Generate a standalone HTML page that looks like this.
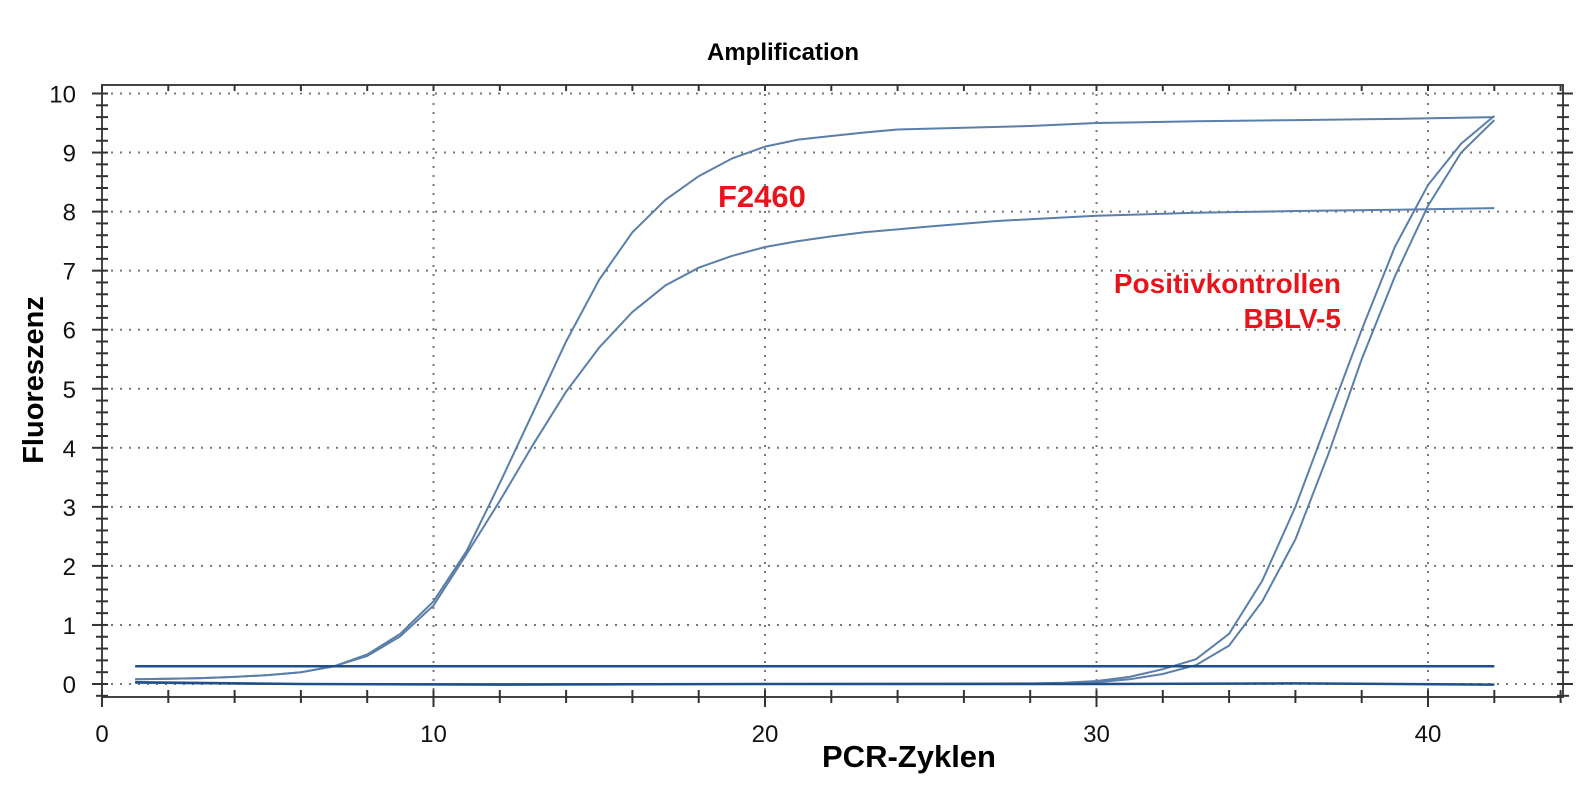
<!DOCTYPE html>
<html><head><meta charset="utf-8"><style>
html,body{margin:0;padding:0;background:#fff;}
svg{display:block;font-family:"Liberation Sans",Arial,sans-serif;}
</style></head><body>
<svg id="s" width="1579" height="800" viewBox="0 0 1579 800">
<rect width="1579" height="800" fill="#fff"/>
<text x="783" y="60" font-size="24" font-weight="bold" text-anchor="middle">Amplification</text>
<g id="grid"></g>
<rect x="102" y="85" width="1461" height="612" fill="none" stroke="#444" stroke-width="2"/>
<g id="ticks" stroke="#333" stroke-width="2"></g>
<g id="labels" font-size="24" fill="#111"></g>
<g id="curves" fill="none"></g>
<text x="909" y="767" font-size="31" font-weight="bold" text-anchor="middle">PCR-Zyklen</text>
<text transform="translate(43,380) rotate(-90)" font-size="29" font-weight="bold" text-anchor="middle">Fluoreszenz</text>
<text x="718" y="207" font-size="31" font-weight="bold" fill="#e8141b">F2460</text>
<text x="1341" y="293" font-size="28" font-weight="bold" fill="#e8141b" text-anchor="end">Positivkontrollen</text>
<text x="1341" y="328" font-size="28" font-weight="bold" fill="#e8141b" text-anchor="end">BBLV-5</text>
</svg>
<script>
var NS="http://www.w3.org/2000/svg";
function X(c){return 102+c*33.15;}
function Y(v){return 684-v*59.05;}
function el(p,t,a){var e=document.createElementNS(NS,t);for(var k in a)e.setAttribute(k,a[k]);p.appendChild(e);return e;}
var g=document.getElementById('grid'),tk=document.getElementById('ticks'),lb=document.getElementById('labels');
for(var v=0;v<=10;v++){el(g,'line',{x1:102,x2:1563,y1:Y(v),y2:Y(v),stroke:'#777','stroke-width':2,'stroke-dasharray':'2,7'});
 var t=el(lb,'text',{x:76,y:Y(v)+9,'text-anchor':'end'});t.textContent=v;}
for(var c=10;c<=40;c+=10){el(g,'line',{x1:X(c),x2:X(c),y1:85,y2:697,stroke:'#777','stroke-width':2,'stroke-dasharray':'2,7'});}
for(var c=0;c<=40;c+=10){var t=el(lb,'text',{x:X(c),y:742,'text-anchor':'middle'});t.textContent=c;}
for(var v=-0.2;v<=10.01;v+=0.2){var y=Y(v),maj=Math.abs(v-Math.round(v))<0.01;
 el(tk,'line',{x1:maj?92:96,x2:108,y1:y,y2:y});el(tk,'line',{x1:1557,x2:maj?1573:1569,y1:y,y2:y});}
for(var c=0;c<=44;c+=2){var maj=c%10==0;el(tk,'line',{x1:X(c),x2:X(c),y1:690,y2:maj?707:703});el(tk,'line',{x1:X(c),x2:X(c),y1:85,y2:91});}
function interp(pts){var s='';for(var i=0;i<pts.length;i++){s+=(i?'L':'M')+X(pts[i][0]).toFixed(1)+','+Y(pts[i][1]).toFixed(1);}return s;}
var early=[[1,0.08],[2,0.09],[3,0.1],[4,0.12],[5,0.15],[6,0.2],[7,0.3],[8,0.5],[9,0.85],[10,1.4]];
var up=early.concat([[11,2.25],[12,3.4],[13,4.6],[14,5.8],[15,6.85],[16,7.65],[17,8.2],[18,8.6],[19,8.9],[20,9.1],[21,9.22],[22,9.28],[23,9.34],[24,9.39],[26,9.42],[28,9.45],[30,9.5],[33,9.53],[36,9.55],[39,9.57],[42,9.6]]);
var lo=early.map(function(p){return [p[0],p[1]*(p[0]>7?0.95:1)]}).concat([[11,2.2],[12,3.1],[13,4.05],[14,4.95],[15,5.7],[16,6.3],[17,6.75],[18,7.05],[19,7.25],[20,7.4],[21,7.5],[22,7.58],[23,7.65],[25,7.75],[27,7.84],[30,7.93],[33,7.98],[36,8.01],[39,8.03],[42,8.06]]);
var pa=[[1,0.02],[5,0.0],[10,0.0],[20,0.0],[28,0.01],[29,0.02],[30,0.05],[31,0.12],[32,0.25],[33,0.42],[34,0.85],[35,1.75],[36,3.0],[37,4.5],[38,6.0],[39,7.4],[40,8.45],[41,9.15],[42,9.62]];
var pb=[[1,0.02],[5,0.0],[10,0.0],[20,0.0],[28,0.0],[29,0.01],[30,0.03],[31,0.08],[32,0.17],[33,0.32],[34,0.65],[35,1.4],[36,2.45],[37,3.9],[38,5.5],[39,6.9],[40,8.1],[41,9.0],[42,9.55]];
var cv=document.getElementById('curves');
[up,lo,pa,pb].forEach(function(p){el(cv,'path',{d:interp(p),stroke:'#5b7fa8','stroke-width':2});});
el(cv,'line',{x1:X(1),x2:X(42),y1:Y(0.3),y2:Y(0.3),stroke:'#1f4f86','stroke-width':2.5});
el(cv,'path',{d:interp([[1,0.03],[6,0.0],[12,-0.01],[20,0.0],[30,0.0],[36,0.01],[42,-0.01]]),stroke:'#1f4f86','stroke-width':2.5});
</script>
</body></html>
